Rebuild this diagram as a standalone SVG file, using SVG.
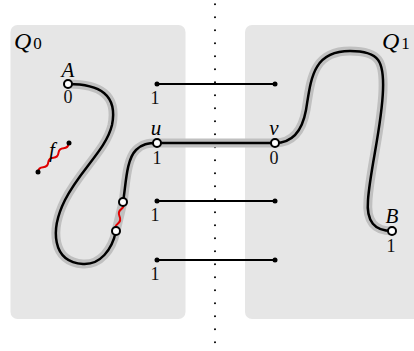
<svg xmlns="http://www.w3.org/2000/svg" width="414" height="351" viewBox="0 0 414 351">
<style>
.box{fill:#e6e6e6}
.halo{fill:none;stroke:#c0c0c0;stroke-width:9;stroke-linecap:round;stroke-linejoin:round}
.path{fill:none;stroke:#000;stroke-width:2.5;stroke-linecap:round}
.edge{fill:none;stroke:#000;stroke-width:2}
.wave{fill:none;stroke:#e00000;stroke-width:2}
.open{fill:#fff;stroke:#000;stroke-width:2}
.dot{fill:#000}
.lbl{font-family:"Liberation Serif",serif;font-style:italic;font-size:21px;fill:#000;text-anchor:middle}
.num{font-family:"Liberation Serif",serif;font-size:18px;fill:#111;text-anchor:middle}
.q{font-family:"Liberation Serif",serif;font-style:italic;font-size:24px;fill:#000}
.sub{font-family:"Liberation Serif",serif;font-style:normal;font-size:17px;fill:#000}
</style>
<g id="regions">
<rect class="box" x="10.5" y="25" width="175" height="294" rx="7"/>
<rect class="box" x="245" y="25" width="180" height="294" rx="7"/>
<text class="q" x="14" y="49">Q<tspan class="sub" dx="2">0</tspan></text>
<text class="q" x="382" y="49">Q<tspan class="sub" dx="2">1</tspan></text>
</g>
<g id="divider">
<line x1="215" y1="4.3" x2="215" y2="344" stroke="#000" stroke-width="2" stroke-linecap="round" stroke-dasharray="0 13"/>
</g>
<g id="connectors">
<path class="halo" d="M68,84 C100,84 118,95 112,125 C106,150 80,170 65,200 C50,230 52,262 83,264 C100,265 112,250 116,231 L123,202 C126,185 126,160 136,150 C142,144 148,143 157,143 L275,143 C292,143 302,132 306,110 C311,80 312,51 350,51 C380,51 384,62 383,90 C382,125 370,170 368,200 C366,222 375,231 392,231"/>
<path class="path" d="M68,84 C100,84 118,95 112,125 C106,150 80,170 65,200 C50,230 52,262 83,264 C100,265 112,250 116,231"/>
<path class="path" d="M123,202 C126,185 126,160 136,150 C142,144 148,143 157,143 L275,143 C292,143 302,132 306,110 C311,80 312,51 350,51 C380,51 384,62 383,90 C382,125 370,170 368,200 C366,222 375,231 392,231"/>
<path class="wave" transform="translate(116,231) rotate(-76.4)" d="M0,0 q3.75,-3 7.5,0 t7.5,0 t7.5,0 t7.5,0"/>
<path class="wave" transform="translate(38,172) rotate(-43)" d="M0,0 q3.5,-3 7,0 t7,0 t7,0 t7,0 t7,0 t7,0"/>
<line class="edge" x1="157" y1="84" x2="275" y2="84"/>
<line class="edge" x1="157" y1="201" x2="275" y2="201"/>
<line class="edge" x1="157" y1="260" x2="275" y2="260"/>
</g>
<g id="node-A"><circle class="open" cx="68" cy="84" r="4"/><text class="lbl" x="68" y="77">A</text><text class="num" x="68" y="103">0</text></g>
<g id="node-u"><circle class="open" cx="157" cy="143" r="4"/><text class="lbl" x="156" y="135">u</text><text class="num" x="157" y="164">1</text></g>
<g id="node-v"><circle class="open" cx="275" cy="143" r="4"/><text class="lbl" x="274" y="135">v</text><text class="num" x="274" y="164">0</text></g>
<g id="node-B"><circle class="open" cx="392" cy="231" r="4"/><text class="lbl" x="392" y="223">B</text><text class="num" x="391" y="252">1</text></g>
<g id="node-c1"><circle class="open" cx="123" cy="202" r="4"/></g>
<g id="node-c2"><circle class="open" cx="116" cy="231" r="4"/></g>
<g id="node-f"><circle class="dot" cx="38" cy="172" r="2.5"/><circle class="dot" cx="69" cy="143" r="2.5"/><text class="lbl" x="52" y="157">f</text></g>
<g id="edge-1"><circle class="dot" cx="157" cy="84" r="2.5"/><circle class="dot" cx="275" cy="84" r="2.5"/><text class="num" x="155" y="104">1</text></g>
<g id="edge-2"><circle class="dot" cx="157" cy="201" r="2.5"/><circle class="dot" cx="275" cy="201" r="2.5"/><text class="num" x="155" y="221">1</text></g>
<g id="edge-3"><circle class="dot" cx="157" cy="260" r="2.5"/><circle class="dot" cx="275" cy="260" r="2.5"/><text class="num" x="155" y="280">1</text></g>
</svg>
